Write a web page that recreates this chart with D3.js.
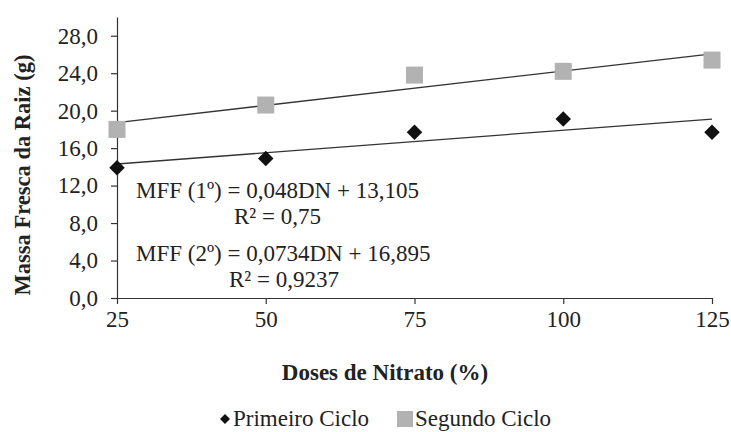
<!DOCTYPE html>
<html>
<head>
<meta charset="utf-8">
<script src="https://cdn.jsdelivr.net/npm/d3@7"></script>
<style>
  body { margin: 0; background: #fff; }
  text { font-family: "Liberation Serif", "Times New Roman", serif; fill: #222; }
</style>
</head>
<body>
<div id="chart"></div>
<script>
// data
const doses = [25, 50, 75, 100, 125];
const primeiro = [13.9, 14.9, 17.7, 19.1, 17.7];
const segundo = [18.0, 20.6, 23.8, 24.2, 25.4];
const yTicks = [0, 4, 8, 12, 16, 20, 24, 28];
const trends = [
  { slope: 0.048, intercept: 13.105 },
  { slope: 0.0734, intercept: 16.895 }
];
const labels = [
  'MFF (1º) = 0,048DN + 13,105', 'R² = 0,75',
  'MFF (2º) = 0,0734DN + 16,895', 'R² = 0,9237'
];

const W = 731, H = 432;
const margin = { top: 17, right: 19, bottom: 134, left: 117 };
const width = W - margin.left - margin.right;
const height = H - margin.top - margin.bottom;

const svg = d3.select('#chart').append('svg').attr('width', W).attr('height', H);
const g = svg.append('g').attr('transform', `translate(${margin.left},${margin.top})`);

const x = d3.scaleLinear().domain([25, 125]).range([0, width]);
const y = d3.scaleLinear().domain([0, 30]).range([height, 0]);
const fmt = d => d.toFixed(1).replace('.', ',');

// axes
const yAxis = g.append('g')
  .call(d3.axisLeft(y).tickValues(yTicks).tickFormat(fmt).tickSize(6).tickSizeOuter(0));
const xAxis = g.append('g')
  .attr('transform', `translate(0,${height})`)
  .call(d3.axisBottom(x).tickValues(doses).tickSize(6).tickSizeOuter(0));
[yAxis, xAxis].forEach(a => {
  a.attr('font-family', null).attr('font-size', null);
  a.selectAll('path, line').attr('stroke', '#333').attr('stroke-width', 1.2);
  a.selectAll('text').style('font-size', '23px').attr('fill', '#222');
});
yAxis.selectAll('text').attr('x', -19);
xAxis.selectAll('text').attr('dy', '0.85em');

// trend lines
trends.forEach(t => {
  g.append('line')
    .attr('x1', x(25)).attr('y1', y(t.intercept + t.slope * 25))
    .attr('x2', x(125)).attr('y2', y(t.intercept + t.slope * 125))
    .attr('stroke', '#333').attr('stroke-width', 1.3);
});

// points
const diamond = d3.symbol().type(d3.symbolSquare).size(120);
g.selectAll('.sq')
  .data(segundo)
  .enter().append('rect')
  .attr('x', (d, i) => x(doses[i]) - 8.5)
  .attr('y', d => y(d) - 8.5)
  .attr('width', 17).attr('height', 17)
  .attr('fill', '#b2b2b2');
g.selectAll('.dm')
  .data(primeiro)
  .enter().append('path')
  .attr('d', diamond)
  .attr('transform', (d, i) => `translate(${x(doses[i])},${y(d)}) rotate(45)`)
  .attr('fill', '#111');

// equation labels
const eqPos = [[19, 181], [117, 207], [19, 244], [112, 270]];
labels.forEach((t, i) => {
  g.append('text')
    .attr('x', eqPos[i][0]).attr('y', eqPos[i][1])
    .style('font-size', '23px')
    .text(t);
});

// axis titles
svg.append('text')
  .attr('transform', `translate(30,${margin.top + 158}) rotate(-90)`)
  .attr('text-anchor', 'middle')
  .style('font-size', '22.5px').style('font-weight', 'bold')
  .text('Massa Fresca  da Raiz (g)');
svg.append('text')
  .attr('x', 385).attr('y', 380)
  .attr('text-anchor', 'middle')
  .style('font-size', '23px').style('font-weight', 'bold')
  .text('Doses de Nitrato  (%)');

// legend
const legend = svg.append('g').attr('transform', 'translate(0,420)');
legend.append('path').attr('d', d3.symbol().type(d3.symbolSquare).size(50))
  .attr('transform', 'translate(225,-1) rotate(45)').attr('fill', '#111');
legend.append('text').attr('x', 233).attr('y', 6).style('font-size', '23px').text('Primeiro Ciclo');
legend.append('rect').attr('x', 397).attr('y', -9).attr('width', 16).attr('height', 16).attr('fill', '#b2b2b2');
legend.append('text').attr('x', 415).attr('y', 6).style('font-size', '23px').text('Segundo Ciclo');
</script>
</body>
</html>
